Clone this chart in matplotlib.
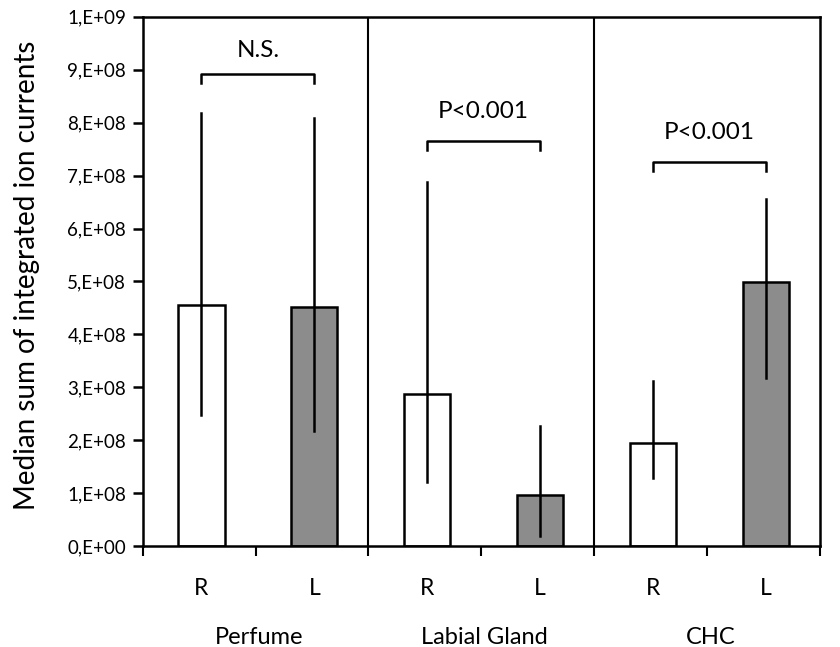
import matplotlib
matplotlib.use("Agg")
import matplotlib.pyplot as plt
import numpy as np

plt.rcParams['font.family'] = ['Lato', 'DejaVu Sans']

groups = ["Perfume", "Labial Gland", "CHC"]
sides = ["R", "L", "R", "L", "R", "L"]
medians = [4.55e8, 4.52e8, 2.88e8, 0.97e8, 1.95e8, 4.99e8]
err_low = [2.47e8, 2.17e8, 1.21e8, 0.19e8, 1.29e8, 3.17e8]
err_high = [8.18e8, 8.09e8, 6.88e8, 2.27e8, 3.12e8, 6.55e8]
bar_colors = ["white", "#8c8c8c", "white", "#8c8c8c", "white", "#8c8c8c"]
sig_labels = ["N.S.", "P<0.001", "P<0.001"]
bracket_y = [8.92e8, 7.66e8, 7.26e8]
sig_text_y = [9.24e8, 8.09e8, 7.69e8]
yticks = np.arange(0, 11) * 1e8
ytick_labels = ["0,E+00", "1,E+08", "2,E+08", "3,E+08", "4,E+08", "5,E+08",
                "6,E+08", "7,E+08", "8,E+08", "9,E+08", "1,E+09"]

fig = plt.figure(figsize=(8.4, 6.47), dpi=100)
ax = fig.add_axes([0.170, 0.156, 0.806, 0.818])

x = np.arange(6) + 0.52
ax.bar(x, medians, width=0.41, color=bar_colors, edgecolor="black", linewidth=1.8, zorder=2)
for xi, lo, hi in zip(x, err_low, err_high):
    ax.plot([xi, xi], [lo, hi], color="black", linewidth=1.8, zorder=3)

ax.set_xlim(0, 6)
ax.set_ylim(0, 1e9)
ax.set_yticks(yticks)
ax.set_yticklabels(ytick_labels, fontsize=13.5)
ax.set_xticks(np.arange(7))
ax.set_xticklabels([])
ax.tick_params(axis="y", direction="out", length=7, width=1.8, pad=5)
ax.tick_params(axis="x", direction="out", length=7, width=1.5)
for s in ax.spines.values():
    s.set_linewidth(1.8)

for d in [2, 4]:
    ax.axvline(d, color="black", linewidth=1.5, zorder=1)

for xi, s in zip(x, sides):
    ax.text(xi, -0.081e9, s, ha="center", va="center", fontsize=16.5, clip_on=False)
for i, g in enumerate(groups):
    ax.text(2 * i + 1.03, -0.172e9, g, ha="center", va="center", fontsize=17, clip_on=False)

drop = 0.17e8
for i, (lab, by, ty) in enumerate(zip(sig_labels, bracket_y, sig_text_y)):
    x0, x1 = x[2 * i], x[2 * i + 1]
    ax.plot([x0, x0, x1, x1], [by - drop, by, by, by - drop], color="black", linewidth=1.8)
    ax.text((x0 + x1) / 2, ty, lab, ha="center", va="baseline", fontsize=17.5)

ax.set_ylabel("Median sum of integrated ion currents", fontsize=20)
ax.yaxis.set_label_coords(-0.152, 0.512)

fig.savefig("out.png", dpi=100)
